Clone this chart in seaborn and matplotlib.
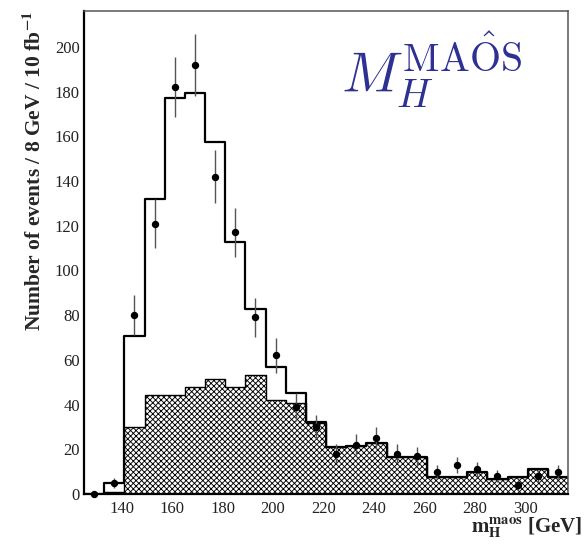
import numpy as np
import pandas as pd
import matplotlib
matplotlib.use("Agg")
import matplotlib.pyplot as plt
import seaborn as sns
from matplotlib.ticker import MultipleLocator

# ---- data ----
bin_edges = list(range(125, 318, 8))  # 8 GeV bins, 125..317
bin_centers = [e + 4 for e in bin_edges[:-1]]
total_expected = [0, 5, 70.7, 132, 177, 179.4, 157.6, 112.6, 82.9, 57, 45.3, 32,
                  20.9, 21.5, 23, 16.7, 16.7, 7.8, 7.8, 10, 6.6, 7.8, 11, 7.8]
background = [0, 1, 29.8, 44.3, 44.3, 47.7, 51.3, 47.7, 53.1, 42, 40.6, 31.6,
              20.9, 21.5, 23, 16.7, 16.7, 7.8, 7.8, 10, 6.6, 7.8, 11, 7.8]
data_counts = [0, 5, 80, 121, 182, 192, 142, 117, 79, 62, 39, 30,
               18, 22, 25, 18, 17, 10, 13, 11, 8, 4, 8, 10]
xticks = [140, 160, 180, 200, 220, 240, 260, 280, 300]
yticks = [0, 20, 40, 60, 80, 100, 120, 140, 160, 180, 200]

df = pd.DataFrame({"m": bin_centers, "total": total_expected,
                   "bkg": background, "data": data_counts})

sns.set_theme(style="white")
plt.rcParams["font.family"] = ["Liberation Serif", "DejaVu Serif"]
plt.rcParams["mathtext.fontset"] = "stix"
plt.rcParams["hatch.linewidth"] = 0.65

fig = plt.figure(figsize=(5.84, 5.45), dpi=100)
ax = fig.add_axes([84 / 584, 1 - 494 / 545, (568 - 84) / 584, (494 - 10.7) / 545])

# background: hatched
sns.histplot(data=df, x="m", weights="bkg", bins=bin_edges, element="step",
             fill=True, facecolor="white", edgecolor="black", hatch="xxxxxx",
             linewidth=1.0, alpha=1, ax=ax)
# total expectation: thick outline
sns.histplot(data=df, x="m", weights="total", bins=bin_edges, element="step",
             fill=False, color="black", linewidth=1.6, ax=ax)

# data points with Poisson errors
err = np.sqrt(np.array(data_counts, dtype=float))
ax.errorbar(df["m"], df["data"], yerr=err, fmt="o", color="black",
            markersize=4.3, ecolor="#555555", elinewidth=1.0, capsize=0,
            zorder=5, clip_on=False)

ax.set_xlim(125, 317)
ax.set_ylim(0, 216.2)
ax.set_xticks(xticks)
ax.set_yticks(yticks)
ax.xaxis.set_minor_locator(MultipleLocator(5))
ax.yaxis.set_minor_locator(MultipleLocator(5))
ax.tick_params(axis="both", which="both", direction="in", colors="#555555",
               labelcolor="#222222", labelsize=12)
ax.tick_params(axis="y", which="major", length=11, width=1.0, pad=3)
ax.tick_params(axis="y", which="minor", length=5.5, width=1.0)
ax.tick_params(axis="x", which="major", length=10, width=1.0, pad=5)
ax.tick_params(axis="x", which="minor", length=4.5, width=1.0)
ax.set_xlabel("")
ax.set_ylabel("")
for s in ["left", "bottom"]:
    ax.spines[s].set_color("black")
    ax.spines[s].set_linewidth(1.6)
for s in ["top", "right"]:
    ax.spines[s].set_color("#555555")
    ax.spines[s].set_linewidth(1.1)

fig.text(34 / 584, 1 - 11 / 545,
         r"Number of events / 8 GeV / 10 fb$^{\mathbf{-1}}$",
         rotation=90, ha="center", va="top", fontsize=15.5, fontweight="bold")
fig.text(582 / 584, 1 - 533 / 545,
         r"$\mathbf{m}_{\mathbf{H}}^{\mathbf{maos}}$ [GeV]",
         ha="right", va="baseline", fontsize=15, fontweight="bold")
fig.text(341 / 584, 1 - 93 / 545, r"$M_H^{\mathrm{MA\hat{O}S}}$",
         ha="left", va="baseline", fontsize=41, color="#2E3192",
         math_fontfamily="cm")

fig.savefig("out.png", dpi=100)
